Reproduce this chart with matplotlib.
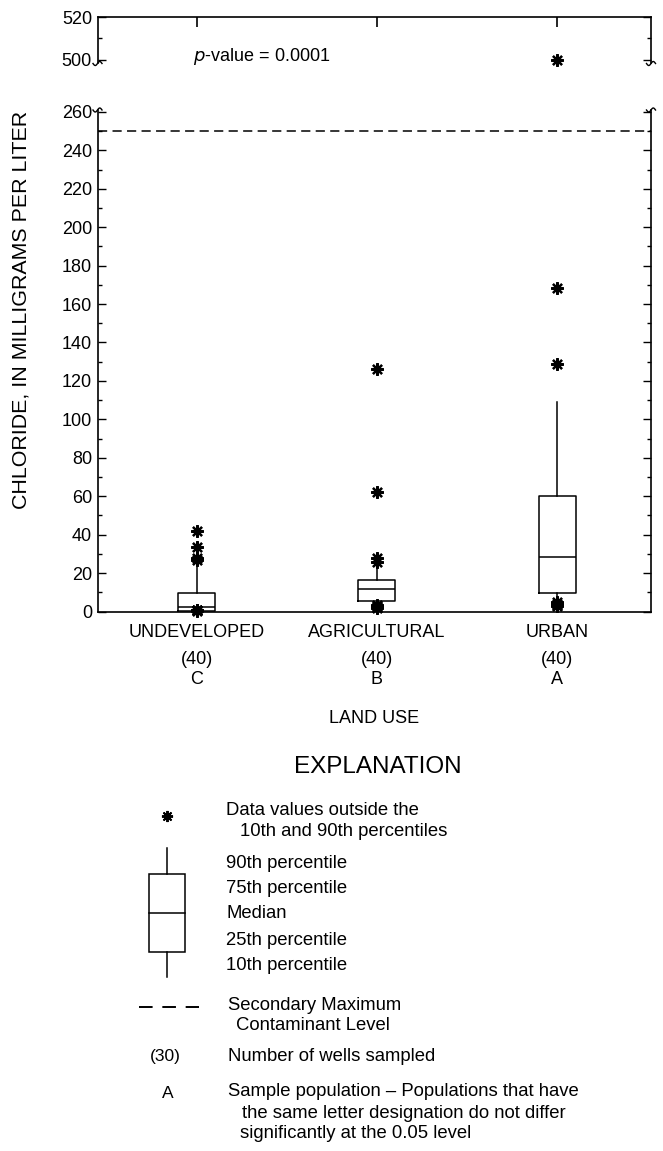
import numpy as np
import matplotlib
matplotlib.use("Agg")
import matplotlib.pyplot as plt

plt.rcParams['font.family'] = ['Liberation Sans', 'DejaVu Sans']

# --- data (chloride, mg/L) ---
categories = ['UNDEVELOPED', 'AGRICULTURAL', 'URBAN']
wells = [40, 40, 40]
groups = ['C', 'B', 'A']
p10 = [0.3, 4.5, 6.0]
p25 = [0.5, 5.5, 9.8]
p50 = [2.2, 11.5, 28.5]
p75 = [9.8, 16.2, 60.0]
p90 = [26.5, 24.0, 109.0]
out_hi = [[42.0, 33.5, 28.0, 27.0], [126.0, 62.0, 28.0, 26.0], [500.0, 168.5, 129.0]]
out_lo = [[1.0, 0.8, 0.6, 0.5], [3.5, 2.5, 2.0, 3.0], [5.0, 4.0, 3.0, 3.5]]
smcl = 250
p_value = 0.0001

W, H = 663, 1151
fig = plt.figure(figsize=(W / 100, H / 100), dpi=100)


def fx(px):
    return px / W


def fy(py):
    return 1 - py / H


left, right = 97.5, 651
ax_lo = fig.add_axes([fx(left), fy(611.5), fx(right - left), (611.5 - 110) / H])
ax_hi = fig.add_axes([fx(left), fy(63.2), fx(right - left), (63.2 - 17) / H])

pos = np.arange(1, len(categories) + 1)
stats = [dict(med=m, q1=a, q3=b, whislo=lo, whishi=hi, fliers=[])
         for m, a, b, lo, hi in zip(p50, p25, p75, p10, p90)]

line = dict(color='black', lw=1.1)
for ax in (ax_lo, ax_hi):
    ax.bxp(stats, positions=pos, widths=0.205, showcaps=False, showfliers=False,
           boxprops=line, whiskerprops=line, medianprops=line)
    ax.set_xlim(0.45, 3.52)
    for s in ax.spines.values():
        s.set_linewidth(1.2)

star = dict(ls='none', marker=(8, 2, 0), ms=9, mew=1.6, color='black')
for x, hi, lo in zip(pos, out_hi, out_lo):
    vals = np.array(hi + lo)
    low = vals[vals <= 260]
    up = vals[vals > 260]
    ax_lo.plot(np.full(len(low), x), low, clip_on=False, **star)
    ax_hi.plot(np.full(len(up), x), up, clip_on=False, **star)

ax_lo.axhline(smcl, color='black', lw=1.1, dashes=(6, 3.5))

# lower panel
ax_lo.set_ylim(0, 261)
ax_lo.set_yticks(np.arange(0, 261, 20))
ax_lo.set_yticks(np.arange(0, 261, 10), minor=True)
ax_lo.spines['top'].set_visible(False)
ax_lo.tick_params(axis='y', which='both', direction='in', left=True, right=True,
                  labelsize=13, width=1.0, pad=4)
ax_lo.tick_params(axis='y', which='major', length=6)
ax_lo.tick_params(axis='y', which='minor', length=3)
ax_lo.set_xticks(pos)
ax_lo.set_xticklabels(categories)
ax_lo.tick_params(axis='x', length=0, labelsize=13, pad=9)

tr = ax_lo.get_xaxis_transform()
for x, n, g in zip(pos, wells, groups):
    ax_lo.text(x, -0.095, f'({n})', transform=tr, ha='center', va='center', fontsize=13)
    ax_lo.text(x, -0.135, g, transform=tr, ha='center', va='center', fontsize=13)
ax_lo.text(0.5, -0.213, 'LAND USE', transform=ax_lo.transAxes,
           ha='center', va='center', fontsize=13)

# upper panel
ax_hi.set_ylim(498.5, 520)
ax_hi.set_yticks([500, 520])
ax_hi.set_yticks([510], minor=True)
ax_hi.spines['bottom'].set_visible(False)
ax_hi.set_xticks(pos)
ax_hi.tick_params(axis='x', top=True, bottom=False, labelbottom=False,
                  direction='in', length=7, width=1.2)
ax_hi.tick_params(axis='y', which='both', direction='in', left=True, right=True,
                  labelsize=13, width=1.0, pad=4)
ax_hi.tick_params(axis='y', which='major', length=6)
ax_hi.tick_params(axis='y', which='minor', length=3)
ax_hi.text(0.98, 501.6, r'$\it{p}$-value = ' + f'{p_value:.4f}',
           ha='left', va='center', fontsize=13)

fig.text(fx(21.5), fy(310), 'CHLORIDE, IN MILLIGRAMS PER LITER', rotation=90,
         ha='center', va='center', fontsize=15.4)

# overlay in pixel coordinates for break marks and the explanation
ov = fig.add_axes([0, 0, 1, 1], zorder=5)
ov.set_xlim(0, W)
ov.set_ylim(H, 0)
ov.axis('off')
ov.patch.set_alpha(0)

t = np.linspace(-1, 1, 30)
for xs in (left, right):
    for yb in (63.5, 110):
        ov.plot(xs + 4.5 * t, yb - 2.0 * np.sin(np.pi * t), color='black', lw=1.0)

ov.text(378, 767, 'EXPLANATION', ha='center', va='center', fontsize=17.5)
ov.plot([166.7], [816], ls='none', marker=(8, 2, 0), ms=8, mew=1.4, color='black')
ov.add_patch(plt.Rectangle((149, 874), 36, 951.7 - 874, fill=False, lw=1.1, ec='black'))
ov.plot([149, 185], [912.7, 912.7], color='black', lw=1.1)
ov.plot([167, 167], [848.3, 874], color='black', lw=1.1)
ov.plot([167, 167], [951.7, 976.7], color='black', lw=1.1)
ov.plot([139, 199], [1006.5, 1006.5], color='black', lw=1.4, dashes=(7, 5))

fs = 13.3
ov.text(226, 810, 'Data values outside the', va='center', fontsize=fs)
ov.text(240, 831.5, '10th and 90th percentiles', va='center', fontsize=fs)
for yy, s in zip([863, 888, 913, 940, 965],
                 ['90th percentile', '75th percentile', 'Median',
                  '25th percentile', '10th percentile']):
    ov.text(226, yy, s, va='center', fontsize=fs)
ov.text(228, 1005, 'Secondary Maximum', va='center', fontsize=fs)
ov.text(236.5, 1026, 'Contaminant Level', va='center', fontsize=fs)
ov.text(165, 1056.5, '(30)', ha='center', va='center', fontsize=12.5)
ov.text(228, 1056.5, 'Number of wells sampled', va='center', fontsize=fs)
ov.text(168, 1093, 'A', ha='center', va='center', fontsize=12.5)
ov.text(228, 1091, 'Sample population \u2013 Populations that have', va='center', fontsize=fs)
ov.text(241.5, 1113, 'the same letter designation do not differ', va='center', fontsize=fs)
ov.text(240, 1134, 'significantly at the 0.05 level', va='center', fontsize=fs)

fig.savefig('out.png', dpi=100)
